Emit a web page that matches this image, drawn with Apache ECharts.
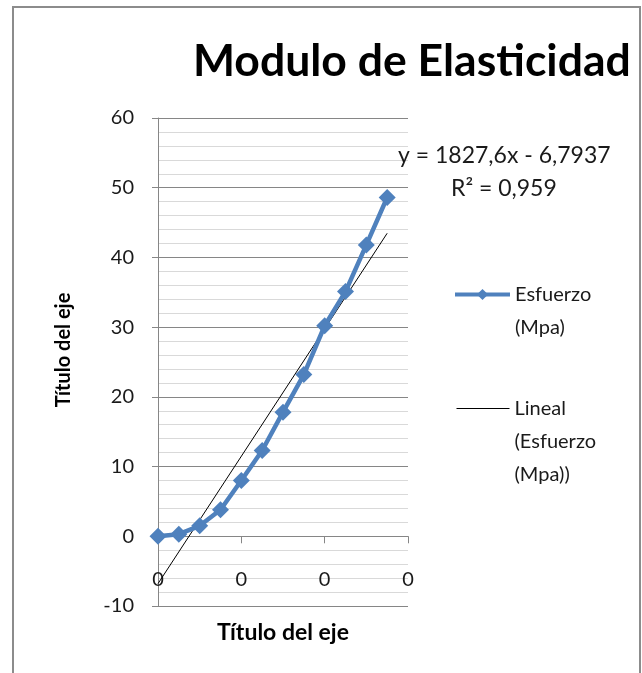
<!DOCTYPE html>
<html>
<head>
<meta charset="utf-8">
<script src="https://cdn.jsdelivr.net/npm/echarts@6/dist/echarts.min.js"></script>
<style>
html,body{margin:0;padding:0;background:#fff;}
#chart{width:642px;height:673px;}
</style>
</head>
<body>
<div id="chart"></div>
<script>
// Strain (x) values and stress values
var strainX = [0, 0.0025, 0.005, 0.0075, 0.01, 0.0125, 0.015, 0.0175, 0.02, 0.0225, 0.025, 0.0275];
var stressY = [0, 0.3, 1.5, 3.8, 8.0, 12.3, 17.8, 23.2, 30.2, 35.1, 41.8, 48.6];
// Linear trend: slope, intercept
var trendCoef = [1827.6, -6.7937];
var trendText = ['y = 1827,6x - 6,7937', 'R² = 0,959'];
var seriesNames = ['Esfuerzo\n(Mpa)', 'Lineal\n(Esfuerzo\n(Mpa))'];
var xTicks = [0, 0.01, 0.02, 0.03];
var yTicks = [-10, 0, 10, 20, 30, 40, 50, 60];

var mainData = strainX.map(function (x, i) { return [x, stressY[i]]; });
var xFirst = strainX[0], xLast = strainX[strainX.length - 1];
var trendData = [
  [xFirst, trendCoef[0] * xFirst + trendCoef[1]],
  [xLast, trendCoef[0] * xLast + trendCoef[1]]
];

// push the first text line level with the legend icon
function padLines(name) {
  var n = name.split('\n').length;
  return new Array(n).join('\n') + name;
}

var FONT = 'Lato, "Open Sans", sans-serif';
var legendText = {fontFamily: FONT, fontSize: 20, color: '#1a1a1a', lineHeight: 33};
var chart = echarts.init(document.getElementById('chart'), null, {renderer: 'canvas'});
chart.setOption({
  animation: false,
  backgroundColor: '#ffffff',
  title: [
    {text: 'Modulo de Elasticidad', left: 188, top: 34,
     textStyle: {fontFamily: FONT, fontWeight: 'bold', fontSize: 44.5, color: '#000'}},
    {text: trendText[0], left: 393, top: 139,
     textStyle: {fontFamily: FONT, fontWeight: 'normal', fontSize: 23, color: '#1a1a1a'}},
    {text: trendText[1], left: 446, top: 172,
     textStyle: {fontFamily: FONT, fontWeight: 'normal', fontSize: 23, color: '#1a1a1a'}}
  ],
  graphic: [
    {type: 'rect', shape: {x: 13, y: 7, width: 627, height: 720},
     style: {fill: 'none', stroke: '#8c8c8c', lineWidth: 2}, silent: true}
  ],
  legend: [
    {data: [{name: seriesNames[0], lineStyle: {width: 4}}], orient: 'vertical', left: 448, top: 240,
     itemWidth: 55, itemHeight: 14, formatter: padLines, textStyle: legendText},
    {data: [{name: seriesNames[1], itemStyle: {opacity: 0}, lineStyle: {width: 1}}],
     orient: 'vertical', left: 451, top: 321,
     itemWidth: 53, itemHeight: 14, formatter: padLines, textStyle: legendText}
  ],
  grid: {left: 158, right: 234, top: 118, bottom: 67, containLabel: false, outerBoundsMode: 'none'},
  xAxis: {
    type: 'value', min: xTicks[0], max: xTicks[xTicks.length - 1], interval: 0.01,
    name: 'Título del eje', nameLocation: 'middle', nameGap: 15,
    nameTextStyle: {fontFamily: FONT, fontWeight: 'bold', fontSize: 23, color: '#000'},
    axisLine: {onZero: true, lineStyle: {color: '#868686', width: 1}},
    axisTick: {show: true, inside: false, length: 7, lineStyle: {color: '#868686'}},
    axisLabel: {formatter: function (v) { return String(Math.round(v)); }, margin: -36,
      fontFamily: FONT, fontSize: 20, color: '#1a1a1a', showMinLabel: true, showMaxLabel: true},
    splitLine: {show: false}
  },
  yAxis: {
    type: 'value', min: yTicks[0], max: yTicks[yTicks.length - 1], interval: 10,
    name: 'Título del eje', nameLocation: 'middle', nameGap: 84, nameRotate: 90,
    nameTextStyle: {fontFamily: FONT, fontWeight: 'bold', fontSize: 20, color: '#000', padding: [0, 0, 0, 24]},
    axisLine: {show: true, onZero: false, lineStyle: {color: '#868686', width: 1}},
    axisTick: {show: true, inside: false, length: 6, lineStyle: {color: '#868686'}},
    axisLabel: {margin: 24, fontFamily: FONT, fontSize: 20, color: '#1a1a1a'},
    splitLine: {show: true, lineStyle: {color: '#868686', width: 1}},
    minorTick: {show: false, splitNumber: 5},
    minorSplitLine: {show: true, lineStyle: {color: '#d9d9d9', width: 1}}
  },
  series: [
    {name: seriesNames[1], type: 'line', data: trendData, symbol: 'none',
     lineStyle: {color: '#000', width: 1}, itemStyle: {color: '#000'}, z: 3, silent: true},
    {name: seriesNames[0], type: 'line', data: mainData, symbol: 'diamond', symbolSize: 17,
     lineStyle: {color: '#4f81bd', width: 4.5}, itemStyle: {color: '#4f81bd'}, z: 4}
  ]
});
</script>
</body>
</html>
